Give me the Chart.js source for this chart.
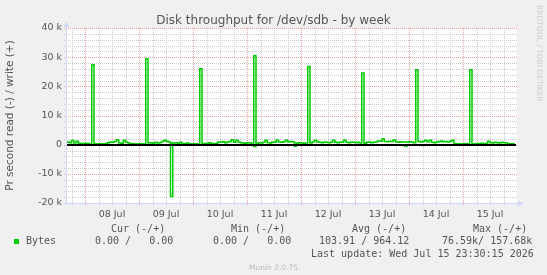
<!DOCTYPE html>
<html>
<head>
<meta charset="utf-8">
<script src="https://cdn.jsdelivr.net/npm/chart.js@4.4.1/dist/chart.umd.min.js"></script>
<style>
  html, body { margin: 0; padding: 0; background: #f0f0f0; }
  #wrap { position: relative; width: 547px; height: 275px; overflow: hidden; }
  #graph { position: absolute; left: 0; top: 0; }
  .txt { position: absolute; white-space: pre; color: #555; }
  .mono { font: 10px/12px "DejaVu Sans Mono", monospace; }
  #title { left: 0; top: 13px; width: 547px; text-align: center; font: 12px/14px "DejaVu Sans", sans-serif; }
  #munin { left: 0; top: 263px; width: 547px; text-align: center; font: 7.5px/9px "DejaVu Sans", sans-serif; color: #bbb; }
  #rrd { left: 535px; top: 5px; writing-mode: vertical-rl; font: 7.5px/8px "DejaVu Sans", sans-serif; color: #ccc; }
  #swatch { position: absolute; left: 14px; top: 239px; width: 5px; height: 5px; background: #00cc00; }
</style>
</head>
<body>
<div id="wrap">
  <canvas id="graph" width="547" height="275"></canvas>
  <div class="txt" id="title">Disk throughput for /dev/sdb - by week</div>
  <div class="txt" id="rrd">RRDTOOL / TOBI OETIKER</div>
  <div class="txt mono" style="left:111px;top:223px">Cur (-/+)</div>
  <div class="txt mono" style="left:231px;top:223px">Min (-/+)</div>
  <div class="txt mono" style="left:352px;top:223px">Avg (-/+)</div>
  <div class="txt mono" style="left:473px;top:223px">Max (-/+)</div>
  <div id="swatch"></div>
  <div class="txt mono" style="left:26px;top:235px">Bytes</div>
  <div class="txt mono" style="left:95px;top:235px">0.00 /   0.00</div>
  <div class="txt mono" style="left:213px;top:235px">0.00 /   0.00</div>
  <div class="txt mono" style="left:319px;top:235px">103.91 / 964.12</div>
  <div class="txt mono" style="left:442px;top:235px">76.59k/ 157.68k</div>
  <div class="txt mono" style="left:311px;top:248px">Last update: Wed Jul 15 23:30:15 2026</div>
  <div class="txt" id="munin">Munin 2.0.75</div>
</div>
<script>
// == Disk throughput, one week, munin style ==
// one sample per hour, first sample Jul 07 16:00, values in bytes per second
// write is drawn upwards, read downwards

const startHour = 16;   // hours after Jul 07 00:00
const endHour = 216;    // Jul 16 00:00

const writeBytes = [
	900, 700, 1400, 600, 1200, 500, 400, 300, 500, 400,
	300, 27400, 300, 200, 300, 300, 200, 400, 700, 900,
	800, 1100, 1700, 600, 500, 1500, 800, 600, 300, 300,
	200, 300, 300, 200, 300, 29500, 600, 700, 500, 800,
	600, 700, 1100, 1500, 1200, 900, 500, 600, 700, 500,
	800, 400, 300, 600, 300, 200, 300, 300, 200, 26000,
	400, 300, 500, 700, 400, 300, 400, 900, 800, 1000,
	700, 900, 1100, 1700, 800, 1500, 900, 700, 600, 500,
	700, 600, 500, 30500, 400, 700, 600, 800, 1500, 700,
	600, 900, 800, 1600, 900, 800, 1000, 1500, 900, 1100,
	1000, 600, 500, 700, 600, 500, 600, 26800, 600, 1000,
	1500, 900, 800, 700, 900, 800, 700, 800, 1500, 800,
	700, 900, 800, 1500, 800, 700, 900, 800, 700, 800,
	600, 24600, 500, 800, 900, 700, 800, 900, 1300, 1200,
	2000, 1100, 1000, 1200, 1100, 1600, 900, 800, 1000, 900,
	900, 800, 1000, 900, 700, 25700, 1100, 900, 1200, 1500,
	1000, 1500, 800, 700, 900, 1100, 1300, 1000, 1100, 900,
	1200, 1500, 400, 300, 300, 200, 300, 300, 300, 25700,
	300, 200, 400, 300, 500, 300, 400, 1200, 700, 600,
	800, 700, 600, 800, 700, 600, 300, 300, 300, 300
];

const readBytes = [
	0, 0, 0, 0, 0, 0, 0, 0, 0, 0,
	0, 0, 0, 0, 0, 0, 0, 0, 0, 0,
	0, 0, 0, 0, 0, 0, 0, 0, 0, 0,
	0, 0, 0, 0, 0, 0, 0, 0, 0, 0,
	0, 0, 0, 0, 0, 0, -17800, 0, 0, 0,
	0, 0, 0, 0, 0, 0, 0, 0, 0, 0,
	0, 0, 0, 0, 0, 0, 0, 0, 0, 0,
	0, 0, 0, 0, 0, 0, 0, 0, 0, 0,
	0, 0, 0, -600, 0, 0, 0, 0, 0, 0,
	0, 0, 0, 0, 0, 0, 0, 0, 0, 0,
	0, -500, 0, 0, 0, 0, 0, 0, 0, 0,
	0, 0, 0, 0, 0, 0, 0, 0, 0, 0,
	0, 0, 0, 0, 0, 0, 0, 0, 0, 0,
	0, 0, 0, 0, 0, 0, 0, 0, 0, 0,
	0, 0, 0, 0, 0, 0, 0, 0, 0, 0,
	-500, 0, 0, 0, 0, 0, 0, 0, -300, 0,
	0, 0, 0, 0, 0, 0, 0, 0, 0, 0,
	0, 0, 0, 0, 0, 0, 0, 0, 0, 0,
	0, 0, 0, 0, 0, 0, 0, 0, 0, 0,
	0, 0, 0, 0, 0, 0, 0, 0, 0, 0
];

const dayLabels = ['08 Jul', '09 Jul', '10 Jul', '11 Jul', '12 Jul', '13 Jul', '14 Jul', '15 Jul'];
const dayNoonHours = [36, 60, 84, 108, 132, 156, 180, 204];

const yTickValues = [-20000, -10000, 0, 10000, 20000, 30000, 40000];
const yTickLabels = ['-20 k', '-10 k', '0', '10 k', '20 k', '30 k', '40 k'];

const lineGreen = '#00cc00';
const minorGrid = '#cccccc';
const majorGrid = '#eaa0a0';
const axisColor = '#cfd6f8';

function toPoints(arr) {
	return arr.map(function(v, i) {
		return {x: startHour + i, y: v};
	});
}

// grey canvas, white plot area
const background = {
	id: 'background',
	beforeDraw(chart) {
		const {ctx, chartArea: a} = chart;
		ctx.save();
		ctx.fillStyle = '#f0f0f0';
		ctx.fillRect(0, 0, chart.width, chart.height);
		ctx.fillStyle = '#ffffff';
		ctx.fillRect(a.left, a.top, a.right - a.left, a.bottom - a.top);
		ctx.restore();
	}
};

// dotted grid like rrdtool: grey every 6 h / 2 k, red at midnight / 10 k
const dottedGrid = {
	id: 'dottedGrid',
	beforeDatasetsDraw(chart) {
		const {ctx, chartArea: a, scales} = chart;
		ctx.save();
		ctx.lineWidth = 1;
		ctx.setLineDash([1, 1]);
		scales.x.ticks.forEach(function(t) {
			const x = Math.round(scales.x.getPixelForValue(t.value)) + 0.5;
			ctx.strokeStyle = t.value % 24 === 0 ? majorGrid : minorGrid;
			ctx.beginPath();
			ctx.moveTo(x, a.top);
			ctx.lineTo(x, a.bottom + 3);
			ctx.stroke();
		});
		scales.y.ticks.forEach(function(t) {
			const y = Math.round(scales.y.getPixelForValue(t.value)) + 0.5;
			ctx.strokeStyle = t.value % 10000 === 0 ? majorGrid : minorGrid;
			ctx.beginPath();
			ctx.moveTo(a.left - 3, y);
			ctx.lineTo(a.right, y);
			ctx.stroke();
		});
		ctx.restore();
	}
};

// black zero rule and the two axes with their arrows
const axes = {
	id: 'axes',
	afterDatasetsDraw(chart) {
		const {ctx, chartArea: a, scales} = chart;
		const y0 = Math.round(scales.y.getPixelForValue(0));
		ctx.save();
		ctx.strokeStyle = '#000000';
		ctx.lineWidth = 2;
		ctx.beginPath();
		ctx.moveTo(a.left, y0);
		ctx.lineTo(a.right - 1, y0);
		ctx.stroke();

		ctx.strokeStyle = axisColor;
		ctx.fillStyle = axisColor;
		ctx.lineWidth = 1;
		const lx = Math.round(a.left) - 0.5;
		const by = Math.round(a.bottom) + 0.5;
		ctx.beginPath();
		ctx.moveTo(lx, a.bottom + 2);
		ctx.lineTo(lx, a.top - 3);
		ctx.moveTo(a.left - 3, by);
		ctx.lineTo(a.right + 3, by);
		ctx.stroke();
		// arrow heads
		ctx.beginPath();
		ctx.moveTo(lx - 3, a.top - 1);
		ctx.lineTo(lx + 3, a.top - 1);
		ctx.lineTo(lx, a.top - 6);
		ctx.closePath();
		ctx.fill();
		ctx.beginPath();
		ctx.moveTo(a.right + 1, by - 3);
		ctx.lineTo(a.right + 1, by + 3);
		ctx.lineTo(a.right + 6, by);
		ctx.closePath();
		ctx.fill();
		ctx.restore();
	}
};

const tickFont = {family: 'DejaVu Sans', size: 9.5};

new Chart(document.getElementById('graph').getContext('2d'), {
	type: 'line',
	data: {
		datasets: [
			{
				label: 'write',
				data: toPoints(writeBytes),
				borderColor: lineGreen,
				borderWidth: 1.5,
				pointRadius: 0,
				stepped: true,
				fill: false
			},
			{
				label: 'read',
				data: toPoints(readBytes),
				borderColor: lineGreen,
				borderWidth: 1.5,
				pointRadius: 0,
				stepped: true,
				fill: false
			}
		]
	},
	options: {
		responsive: false,
		animation: false,
		layout: {padding: {left: 0, right: 30, top: 28, bottom: 52}},
		plugins: {legend: {display: false}, tooltip: {enabled: false}},
		scales: {
			x: {
				type: 'linear',
				min: startHour,
				max: endHour,
				afterBuildTicks(scale) {
					const t = [];
					for (let h = startHour + 2; h < endHour; h += 6)
						t.push({value: h});
					scale.ticks = t;
				},
				afterFit(scale) { scale.height = 20; },
				grid: {display: false, drawTicks: true, tickLength: 3},
				border: {display: false},
				ticks: {
					autoSkip: false,
					maxRotation: 0,
					padding: 3,
					color: '#555',
					font: tickFont,
					callback: function(v) {
						const i = dayNoonHours.indexOf(v);
						return i >= 0 ? dayLabels[i] : '';
					}
				}
			},
			y: {
				min: -20000,
				max: 40000,
				afterFit(scale) { scale.width = 67; },
				grid: {display: false, drawTicks: true, tickLength: 3},
				border: {display: false},
				ticks: {
					stepSize: 2000,
					autoSkip: false,
					padding: 2,
					color: '#555',
					font: tickFont,
					callback: function(v) {
						const i = yTickValues.indexOf(v);
						return i >= 0 ? yTickLabels[i] : '';
					}
				},
				title: {
					display: true,
					text: 'Pr second read (-) / write (+)',
					color: '#555',
					font: {family: 'DejaVu Sans', size: 10.5},
					padding: {top: 4, bottom: 0}
				}
			}
		}
	},
	plugins: [background, dottedGrid, axes]
});
</script>
</body>
</html>
